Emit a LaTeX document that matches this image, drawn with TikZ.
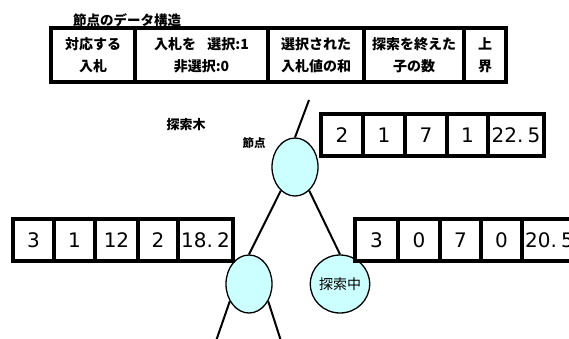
\documentclass[tikz,border=0pt]{standalone}
\usepackage{fontspec}
\setmainfont{Noto Sans CJK JP}
\newfontfamily\numfont{DejaVu Sans}
\usetikzlibrary{shapes.geometric}
\definecolor{nodecyan}{HTML}{CCFFFF}
\tikzset{
  cellbox/.style={draw=black, line width=3.2pt, fill=white, inner sep=0pt},
  headcell/.style={cellbox, minimum height=54pt, align=center, font=\bfseries\fontsize{14}{22}\selectfont},
  numcell/.style={cellbox, minimum height=42pt, font=\numfont\fontsize{20}{22}\selectfont},
  treenode/.style={ellipse, draw=black, line width=1.3pt, fill=nodecyan, inner sep=0pt,
    minimum width=46pt, minimum height=58pt},
  edge/.style={draw=black, line width=2pt},
  lbl/.style={inner sep=0pt}
}
\begin{document}
\begin{tikzpicture}[x=1pt,y=-1pt]
\useasboundingbox (0,0) rectangle (569,338);

% title
\node[lbl, anchor=west, font=\bfseries\fontsize{13.5}{15}\selectfont] (title) at (73,20) {節点のデータ構造};

% header table (y 28..82)
\node[headcell, minimum width=84pt]  (h1) at (93,55) {対応する\\入札};
\node[headcell, minimum width=133pt] (h2) at (201.5,55) {入札を\hspace{0.8em}選択:1\\非選択:0};
\node[headcell, minimum width=96pt]  (h3) at (316,55) {選択された\\入札値の和};
\node[headcell, minimum width=100pt] (h4) at (414,55) {探索を終えた\\子の数};
\node[headcell, minimum width=42pt]  (h5) at (485,55) {上\\界};

% labels
\node[lbl, font=\bfseries\fontsize{13}{14}\selectfont] (treelbl) at (186,125) {探索木};
\node[lbl, font=\bfseries\fontsize{11.5}{13}\selectfont] (nodelbl) at (254,143) {節点};

% tree
\coordinate (up) at (309,100);
\coordinate (dl) at (216,341);
\coordinate (dr) at (281,341);
\node[treenode] (top) at (295,167) {};
\node[treenode] (lc) at (249,284) {};
\node[treenode, font=\fontsize{14}{16}\selectfont] (rc) at (340,284) {探索中};
\draw[edge] (up) -- (top.north);
\draw[edge] (top.239) -- (lc.north);
\draw[edge] (top.301) -- (rc.north);
\draw[edge] (lc.222) -- (dl);
\draw[edge] (lc.318) -- (dr);

% top box (x 321 363 405 447 488 544; y 114..156)
\node[numcell, minimum width=42pt] (t1) at (342,135) {2};
\node[numcell, minimum width=42pt] (t2) at (384,135) {1};
\node[numcell, minimum width=42pt] (t3) at (426,135) {7};
\node[numcell, minimum width=41pt] (t4) at (467.5,135) {1};
\node[numcell, minimum width=56pt] (t5) at (516,135) {22.\kern4pt 5};

% left box (x 13 54 95 138 178 233; y 219..261)
\node[numcell, minimum width=41pt] (l1) at (33.5,240) {3};
\node[numcell, minimum width=41pt] (l2) at (74.5,240) {1};
\node[numcell, minimum width=43pt] (l3) at (116.5,240) {12};
\node[numcell, minimum width=40pt] (l4) at (158,240) {2};
\node[numcell, minimum width=55pt] (l5) at (205.5,240) {18.\kern4pt 2};

% right box (x 355 398 440 481 522 577)
\node[numcell, minimum width=43pt] (r1) at (376.5,240) {3};
\node[numcell, minimum width=42pt] (r2) at (419,240) {0};
\node[numcell, minimum width=41pt] (r3) at (460.5,240) {7};
\node[numcell, minimum width=41pt] (r4) at (501.5,240) {0};
\node[numcell, minimum width=55pt] (r5) at (549.5,240) {20.\kern4pt 5};
\end{tikzpicture}
\end{document}
